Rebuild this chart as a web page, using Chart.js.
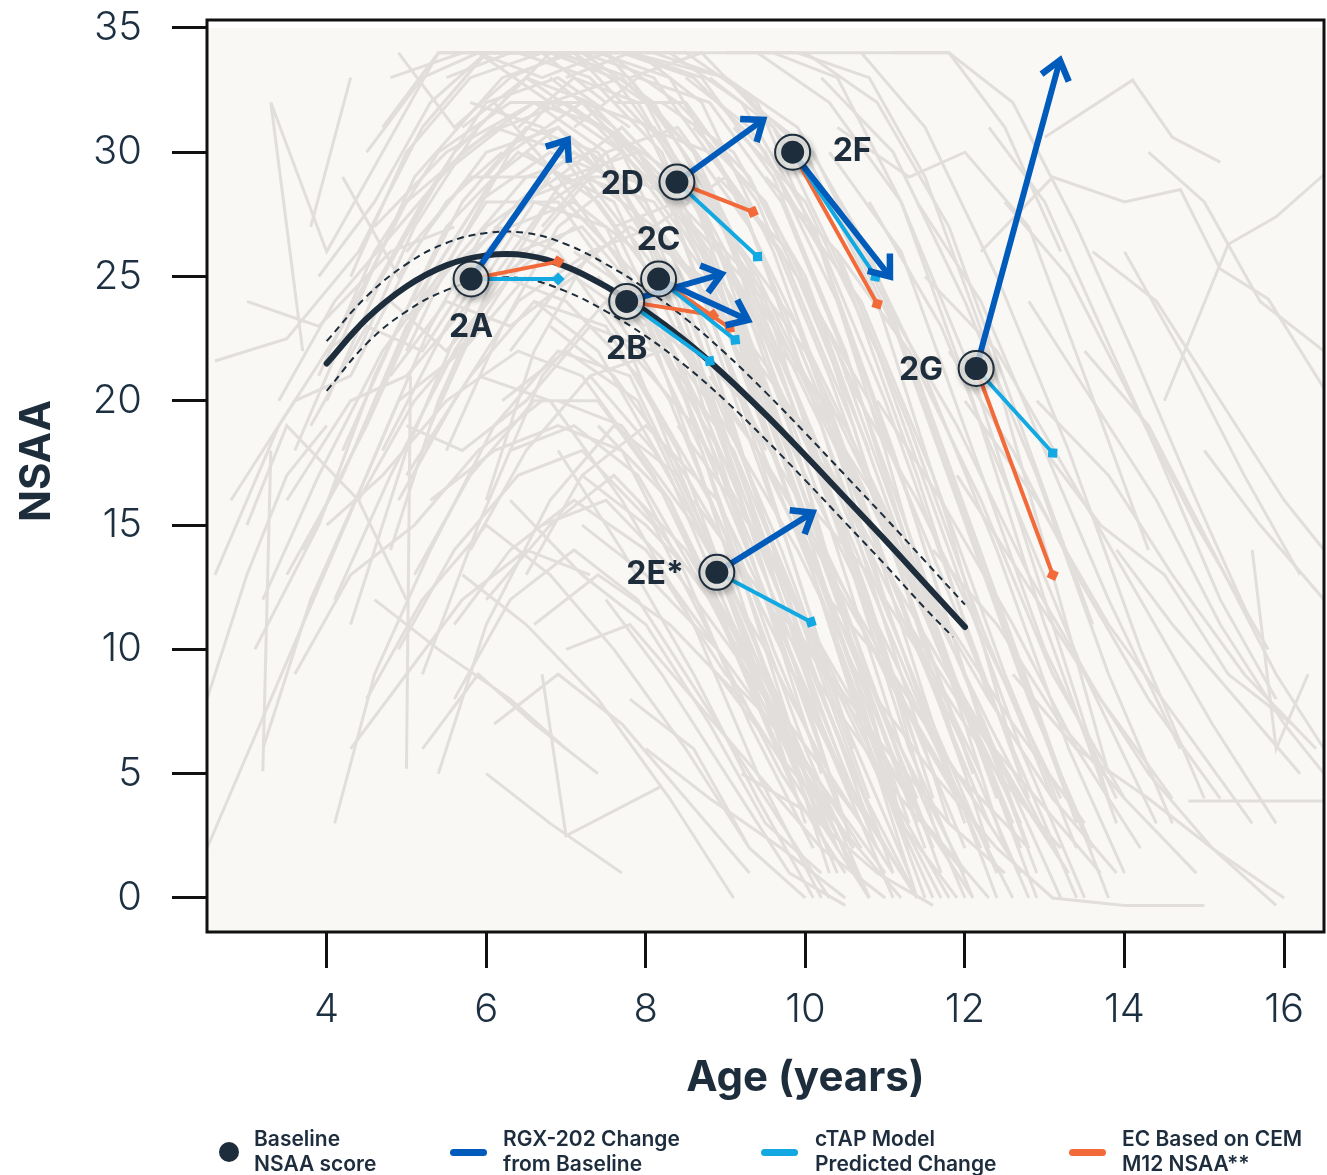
<!DOCTYPE html>
<html><head><meta charset="utf-8">
<script src="https://cdn.jsdelivr.net/npm/chart.js@4.4.1/dist/chart.umd.min.js"></script>
<style>
html,body{margin:0;padding:0;background:#fff;width:1327px;height:1175px;overflow:hidden;}
#wrap{position:relative;width:1327px;height:1175px;}
canvas{position:absolute;left:0;top:0;}
.leg{position:absolute;top:1126px;font-family:Inter,'Noto Sans',sans-serif;font-weight:600;font-size:21px;line-height:25px;color:#1d2d3d;white-space:nowrap;}
.dot{position:absolute;left:219px;top:1142px;width:20px;height:20px;border-radius:50%;background:#1e2d3c;}
.bar{position:absolute;top:1149px;width:37px;height:7px;border-radius:4px;}
</style></head><body>
<div id="wrap">
<canvas id="c" width="1327" height="1175"></canvas>
<div class="dot"></div><div class="leg" style="left:254px">Baseline<br>NSAA score</div>
<div class="bar" style="left:450px;background:#005bbb"></div><div class="leg" style="left:503px">RGX-202 Change<br>from Baseline</div>
<div class="bar" style="left:761px;background:#12a8e2"></div><div class="leg" style="left:815px">cTAP Model<br>Predicted Change</div>
<div class="bar" style="left:1069px;background:#f26a3a"></div><div class="leg" style="left:1122px">EC Based on CEM<br>M12 NSAA**</div>
</div>
<script>
// ---------- DATA ----------
const ageTicks = [4, 6, 8, 10, 12, 14, 16];
const scoreTicks = [0, 5, 10, 15, 20, 25, 30, 35];

const patientIds = ['2A', '2B', '2C', '2D', '2E*', '2F', '2G'];
const baselineAge   = [5.81, 7.76, 8.16, 8.39, 8.89, 9.84, 12.14];
const baselineScore = [24.9, 24.0, 24.9, 28.8, 13.1, 30.0, 21.3];
const rgxAge   = [7.02, 8.95, 9.28, 9.47, 10.09, 11.06, 13.19];
const rgxScore = [30.5, 25.1, 23.25, 31.3, 15.5, 25.0, 33.7];
const ctapAge   = [6.90, 8.80, 9.12, 9.40, 10.07, 10.88, 13.10];
const ctapScore = [24.9, 21.6, 22.45, 25.8, 11.1, 25.0, 17.9];
const ecAge   = [6.90, 8.84, 9.05, 9.34, null, 10.90, 13.10];
const ecScore = [25.6, 23.45, 22.93, 27.6, null, 23.9, 13.0];
const labelSide = ['below', 'below', 'above', 'left', 'left', 'right', 'left'];

const meanAge   = [4, 4.5, 5, 5.5, 6, 6.5, 7, 7.5, 8, 8.5, 9, 9.5, 10, 10.5, 11, 11.5, 12];
const meanScore = [21.5, 23.3, 24.6, 25.45, 25.85, 25.85, 25.4, 24.6, 23.6, 22.4, 21.0, 19.45, 17.8, 16.1, 14.4, 12.65, 10.9];
const upperAge   = [4, 4.5, 5, 5.5, 6, 6.5, 7, 7.5, 8, 8.5, 9, 9.5, 10, 10.5, 11, 11.5, 12];
const upperScore = [22.4, 24.2, 25.5, 26.35, 26.75, 26.75, 26.3, 25.5, 24.5, 23.3, 21.9, 20.35, 18.7, 17.0, 15.3, 13.55, 11.8];
const lowerAge   = [4, 4.5, 5, 5.5, 6, 6.5, 7, 7.5, 8, 8.5, 9, 9.5, 10, 10.5, 11, 11.5, 11.85];
const lowerScore = [20.4, 22.3, 23.6, 24.45, 24.9, 24.9, 24.4, 23.6, 22.6, 21.4, 20.0, 18.45, 16.8, 15.1, 13.4, 11.65, 10.5];

// natural-history cohort trajectories: [age, NSAA] pairs
const cohortTrajectories = [
 [[2.6,21.6],[3.5,22.5],[4.4,26],[5.2,31],[6.0,34],[7.5,34],[8.6,30],[9.8,21],[10.8,12],[11.6,4]],
 [[3.3,32],[3.7,22]],
 [[3.8,27],[4.3,33]],
 [[2.6,13],[3.4,19],[4.2,23],[5.0,28],[6.1,31],[7.0,30],[8.2,25],[9.1,17],[10.0,8],[10.6,2]],
 [[3.1,10],[3.9,15],[4.6,21],[5.5,27],[6.4,30],[7.6,28],[8.5,22],[9.4,13],[10.2,5]],
 [[3.6,18],[4.4,24],[5.1,29],[6.2,33],[7.1,34],[8.0,32],[9.0,26],[9.9,18],[10.7,9],[11.3,2]],
 [[4.0,20],[4.7,25],[5.6,30],[6.5,33],[7.4,31],[8.3,28],[9.2,20],[10.1,13],[11.0,5]],
 [[3.2,6],[3.8,12],[4.5,17],[5.3,23],[6.0,27],[6.9,29],[7.8,25],[8.7,17],[9.5,9],[10.3,1]],
 [[4.3,11],[5.0,18],[5.8,24],[6.6,28],[7.5,27],[8.4,21],[9.3,12],[10.1,4]],
 [[4.8,14],[5.4,20],[6.1,25],[7.0,29],[7.9,30],[8.8,26],[9.7,17],[10.6,8],[11.4,0]],
 [[5.2,9],[5.9,15],[6.7,21],[7.5,24],[8.3,20],[9.2,13],[10.0,6],[10.8,0]],
 [[3.9,25],[4.6,28],[5.3,32],[6.0,34],[6.9,34],[7.8,33],[8.7,29],[9.6,22],[10.5,14],[11.4,6]],
 [[4.5,30],[5.2,33],[5.9,34],[6.8,32],[7.7,30],[8.6,24],[9.5,15],[10.4,8]],
 [[5.0,22],[5.6,26],[6.3,30],[7.2,32],[8.1,31],[9.0,27],[9.9,20],[10.8,12],[11.6,3]],
 [[5.5,18],[6.2,23],[6.9,27],[7.7,29],[8.6,28],[9.5,22],[10.3,15],[11.2,6],[12.0,0]],
 [[6.0,16],[6.6,22],[7.3,26],[8.1,27],[9.0,23],[9.8,16],[10.7,9],[11.5,2]],
 [[2.5,2],[3.3,8],[4.1,14],[4.9,20],[5.7,22],[6.5,25]],
 [[3.0,15],[3.5,19],[4.4,16],[5.1,20],[5.9,23]],
 [[4.1,3],[4.6,9],[5.3,14],[6.1,19],[6.9,22],[7.8,21],[8.7,15],[9.5,8],[10.4,1]],
 [[5.4,5],[6.0,11],[6.8,16],[7.6,19],[8.4,17],[9.3,11],[10.1,4]],
 [[5.4,34],[6.4,34],[7.3,33],[8.2,30],[9.1,23],[10.0,14],[10.9,5],[11.6,0]],
 [[6.3,34],[7.2,34],[8.1,32],[9.0,27],[9.8,19],[10.6,10],[11.3,2]],
 [[6.8,33],[7.6,31],[8.5,27],[9.4,20],[10.3,11],[11.2,3],[11.9,0]],
 [[7.2,34],[8.1,33],[9.0,29],[9.9,23],[10.8,15],[11.7,6],[12.4,0]],
 [[7.7,34],[8.6,33],[9.5,30],[10.4,24],[11.3,16],[12.2,7],[12.9,1]],
 [[8.3,34],[9.2,32],[10.1,27],[11.0,20],[11.9,12],[12.8,4]],
 [[8.8,33],[9.6,31],[10.5,27],[11.4,21],[12.3,13],[13.2,5],[13.8,0]],
 [[9.4,34],[10.3,32],[11.2,28],[12.1,20],[13.0,11],[13.9,3]],
 [[6.5,30],[7.4,28],[8.3,24],[9.2,17],[10.1,9],[11.0,2]],
 [[7.0,28],[7.9,25],[8.8,19],[9.7,12],[10.6,5],[11.4,0]],
 [[5.8,32],[6.7,31],[7.6,27],[8.5,21],[9.4,13],[10.3,6],[11.1,0]],
 [[6.1,27],[6.9,26],[7.8,22],[8.7,15],[9.6,8],[10.4,2]],
 [[7.5,31],[8.4,29],[9.3,24],[10.2,17],[11.1,9],[12.0,2]],
 [[8.0,29],[8.9,26],[9.8,21],[10.7,14],[11.6,7],[12.4,1]],
 [[8.6,31],[9.5,28],[10.4,22],[11.3,14],[12.2,6],[12.9,0]],
 [[9.0,27],[9.9,23],[10.8,17],[11.7,10],[12.6,3]],
 [[9.7,30],[10.6,27],[11.5,21],[12.4,14],[13.3,6],[14.0,1]],
 [[10.2,33],[11.1,30],[12.0,24],[12.9,17],[13.8,9],[14.6,3]],
 [[10.8,28],[11.7,23],[12.6,16],[13.5,9],[14.4,3]],
 [[6.6,24],[7.4,22],[8.3,17],[9.1,11],[10.0,5],[10.8,0]],
 [[7.3,21],[8.1,18],[9.0,13],[9.8,7],[10.6,1]],
 [[5.9,21],[6.8,20],[7.7,16],[8.6,11],[9.4,5],[10.2,0]],
 [[8.1,23],[9.0,19],[9.9,14],[10.8,8],[11.6,2]],
 [[8.7,25],[9.6,21],[10.5,15],[11.4,8],[12.2,2]],
 [[9.3,22],[10.2,18],[11.1,12],[12.0,6],[12.8,0]],
 [[9.9,25],[10.8,20],[11.7,13],[12.6,6],[13.4,0]],
 [[10.5,21],[11.4,16],[12.3,10],[13.2,4]],
 [[6.9,18],[7.7,14],[8.6,9],[9.4,4],[10.1,0]],
 [[7.9,16],[8.8,12],[9.7,7],[10.6,2]],
 [[8.4,19],[9.3,15],[10.2,10],[11.1,4],[11.8,0]],
 [[4.8,33],[5.7,34],[7.0,34],[8.5,34],[9.4,32],[10.2,26],[11.0,18],[11.8,9],[12.5,2]],
 [[5.2,31],[6.0,34],[7.8,34],[9.0,33],[10.0,30],[10.9,24],[11.8,15],[12.6,6]],
 [[6.6,34],[8.0,34],[9.9,34],[10.8,33],[11.5,29],[12.3,22],[13.1,13],[13.8,5]],
 [[9.0,34],[10.5,34],[11.8,34],[12.5,31],[13.2,26]],
 [[11.1,34],[11.8,34],[12.6,32],[13.4,27],[14.1,22],[14.9,16],[15.6,11]],
 [[13.0,30.6],[14.1,32.9],[14.6,30.6],[15.2,29.6]],
 [[12.2,26],[13.1,29],[14.0,28],[14.7,28.5],[15.2,25.3],[15.8,24.1],[16.5,20.5]],
 [[14.5,20],[15.3,26.3],[15.9,27.4],[16.5,29.1]],
 [[12.8,24],[13.6,20],[14.4,16],[15.2,11],[16.0,7],[16.5,5]],
 [[13.5,22],[14.3,19],[15.1,14],[15.9,9],[16.5,6]],
 [[11.5,25],[12.4,22],[13.3,17],[14.2,12],[15.1,7],[15.9,3]],
 [[12.0,20],[12.9,16],[13.8,11],[14.7,7],[15.6,3]],
 [[13.9,14],[14.6,11],[15.4,8],[16.2,5]],
 [[14.8,3.9],[16.5,3.9]],
 [[12.6,9],[13.4,6],[14.3,4],[15.1,2],[16.0,0]],
 [[11.3,11],[12.1,7],[12.9,4],[13.7,1]],
 [[13.0,18],[13.7,15],[14.5,13],[15.3,9],[16.1,7]],
 [[15.6,14],[15.9,6],[16.3,9]],
 [[10.9,8],[11.6,5],[12.4,2],[13.1,0],[14.0,-0.3],[15.0,-0.3]],
 [[12.3,31],[13.0,28],[13.7,23],[14.4,18],[15.2,12],[15.9,8]],
 [[14.0,26],[14.7,22],[15.5,17],[16.2,13]],
 [[10.4,31],[11.3,29],[12.0,30],[12.8,27],[13.5,21],[14.3,14]],
 [[11.9,17],[12.7,13],[13.5,9],[14.3,5],[15.1,2],[15.9,-0.3]],
 [[3.3,18],[3.2,5.1]],
 [[5.05,21],[5.0,5.2]],
 [[2.5,8],[3.0,13],[3.5,17],[4.0,19]],
 [[6.7,9],[7.0,2.5],[8.2,4.5]],
 [[6.3,16],[7.2,13],[8.0,11],[8.8,7],[9.5,3],[10.2,1]],
 [[4.6,12],[5.4,10],[6.3,8],[7.0,6]],
 [[5.7,13],[6.5,11],[7.4,8],[8.3,4],[9.1,0]],
 [[7.5,12],[8.2,9],[9.0,5],[9.8,1],[10.5,-0.3]],
 [[8.9,9],[9.6,6],[10.4,3],[11.2,0]],
 [[9.6,12],[10.3,9],[11.0,6],[11.8,3],[12.5,1]],
 [[10.0,16],[10.8,13],[11.6,9],[12.4,5],[13.2,2]],
 [[2.8,16],[3.6,20],[4.3,21],[5.1,26]],
 [[4.2,29],[4.9,25],[5.5,28],[6.2,30]],
 [[3.0,24],[3.9,23],[4.8,26],[5.6,27]],
 [[4.4,16],[5.0,12]],
 [[7.8,8],[8.6,6],[9.3,2],[10.0,0]],
 [[9.2,5],[10.0,3.5],[10.9,1],[11.6,-0.3]],
 [[5.6,25],[6.4,28],[7.1,30],[8.0,28],[8.9,22],[9.8,14],[10.6,6]],
 [[6.4,31],[7.1,33],[7.9,32],[8.8,27],[9.7,19],[10.5,11],[11.4,3]],
 [[4.6,27],[5.5,30],[6.6,32],[7.5,30],[8.4,24],[9.3,16],[10.2,7]],
 [[7.1,26],[8.0,24],[8.9,20],[9.7,14],[10.5,7],[11.3,1]],
 [[7.9,34],[8.7,32],[9.6,26],[10.5,18],[11.4,10],[12.3,3]],
 [[5.0,17],[5.8,21],[6.6,24],[7.5,23],[8.4,18],[9.2,11],[10.0,3]],
 [[6.0,12],[6.8,15],[7.6,17],[8.5,14],[9.4,9],[10.2,3]],
 [[3.5,13],[4.2,17],[5.0,23],[5.7,26],[6.5,29],[7.3,30],[8.1,26]],
 [[6.2,20],[7.0,22],[7.9,20],[8.8,14],[9.6,8],[10.4,2]],
 [[8.5,29],[9.4,25],[10.3,19],[11.2,12],[12.0,5]],
 [[9.1,31],[10.0,28],[10.9,22],[11.8,14],[12.7,6],[13.5,0]],
 [[9.6,34],[10.4,33],[11.2,28],[12.1,21],[13.0,12],[13.8,4]],
 [[7.4,19],[8.3,16],[9.2,10],[10.0,5],[10.8,0]],
 [[5.3,27],[6.0,30],[6.9,31],[7.7,29],[8.6,25],[9.5,18]],
 [[4.0,22],[4.8,24],[5.5,22],[6.3,25],[7.1,27]],
 [[10.1,20],[10.9,16],[11.8,11],[12.6,7],[13.5,3]],
 [[11.0,24],[11.9,19],[12.8,13],[13.7,8],[14.6,4]],
 [[3.3,32],[4.0,26],[4.7,30],[5.4,34]],
 [[4.9,34],[5.6,31],[6.3,33],[7.0,34]],
 [[8.2,13],[9.0,9],[9.9,6],[10.7,2]],
 [[4.2,18],[4.9,23],[5.7,28],[6.5,31],[7.4,30],[8.2,26],[9.1,19],[9.9,11],[10.8,3]],
 [[4.6,20],[5.3,25],[6.1,29],[6.9,31],[7.8,28],[8.7,21],[9.6,12],[10.4,4]],
 [[5.1,24],[5.9,28],[6.8,30],[7.6,29],[8.5,24],[9.4,16],[10.3,8],[11.1,1]],
 [[3.7,14],[4.5,19],[5.2,24],[6.0,28],[6.9,28],[7.8,24],[8.7,18],[9.6,10],[10.5,3]],
 [[4.4,22],[5.1,27],[5.9,31],[6.8,34],[7.6,33],[8.5,29],[9.4,21],[10.3,12],[11.1,4]],
 [[5.3,19],[6.0,24],[6.8,28],[7.7,30],[8.6,27],[9.5,20],[10.4,11],[11.3,3]],
 [[5.7,22],[6.5,26],[7.3,29],[8.2,29],[9.1,24],[10.0,16],[10.9,8],[11.7,1]],
 [[6.3,22],[7.0,25],[7.8,27],[8.7,25],[9.6,19],[10.5,11],[11.4,4]],
 [[4.9,16],[5.6,20],[6.4,24],[7.3,26],[8.2,23],[9.1,16],[10.0,9],[10.9,2]],
 [[5.8,14],[6.5,18],[7.3,21],[8.2,22],[9.1,18],[10.0,11],[10.8,4]],
 [[6.5,13],[7.2,17],[8.0,19],[8.9,16],[9.8,10],[10.6,4]],
 [[4.0,15],[4.7,17],[5.5,20],[6.4,22],[7.2,21],[8.1,17],[9.0,11],[9.8,5]],
 [[3.4,20],[4.1,24],[4.9,27],[5.7,30],[6.6,32],[7.5,31],[8.4,27],[9.3,19],[10.2,10]],
 [[4.7,31],[5.4,34],[6.2,34],[7.1,34],[8.0,31],[8.9,25],[9.8,16],[10.7,7],[11.5,0]],
 [[5.5,33],[6.3,34],[7.4,34],[8.3,33],[9.2,28],[10.1,20],[11.0,11],[11.8,3]],
 [[6.0,29],[6.8,32],[7.7,33],[8.6,30],[9.5,24],[10.4,15],[11.3,6],[12.1,0]],
 [[6.7,27],[7.5,30],[8.4,31],[9.3,27],[10.2,20],[11.1,11],[12.0,3]],
 [[7.1,31],[7.9,33],[8.8,32],[9.7,28],[10.6,21],[11.5,12],[12.4,4]],
 [[7.6,27],[8.4,28],[9.3,25],[10.2,19],[11.1,11],[11.9,4]],
 [[8.0,31],[8.8,30],[9.7,26],[10.6,19],[11.5,10],[12.3,2]],
 [[8.5,33],[9.3,31],[10.2,26],[11.1,18],[12.0,9],[12.8,2]],
 [[8.9,29],[9.8,26],[10.7,20],[11.6,12],[12.5,5],[13.2,0]],
 [[9.3,32],[10.1,30],[11.0,24],[11.9,16],[12.8,8],[13.6,2]],
 [[9.8,28],[10.7,24],[11.6,17],[12.5,9],[13.4,2]],
 [[10.3,30],[11.2,26],[12.1,18],[13.0,10],[13.9,4]],
 [[6.2,25],[7.0,24],[7.9,21],[8.8,16],[9.7,10],[10.6,4],[11.4,0]],
 [[6.8,23],[7.6,21],[8.5,17],[9.4,12],[10.3,6],[11.2,1]],
 [[7.4,25],[8.2,22],[9.1,17],[10.0,11],[10.9,5],[11.7,0]],
 [[7.8,22],[8.6,19],[9.5,14],[10.4,9],[11.3,4],[12.1,0]],
 [[8.3,26],[9.1,23],[10.0,17],[10.9,11],[11.8,5],[12.6,0]],
 [[8.8,21],[9.6,17],[10.5,12],[11.4,7],[12.3,2]],
 [[9.4,24],[10.2,20],[11.1,14],[12.0,8],[12.9,3]],
 [[9.9,19],[10.7,15],[11.6,10],[12.5,5],[13.3,1]],
 [[5.6,11],[6.3,14],[7.1,16],[8.0,14],[8.9,10],[9.7,5],[10.5,1]],
 [[6.6,11],[7.4,13],[8.3,11],[9.2,8],[10.0,4],[10.8,0]],
 [[7.2,15],[8.0,13],[8.9,10],[9.8,6],[10.6,2]],
 [[8.6,16],[9.5,12],[10.3,8],[11.2,4],[12.0,1]],
 [[9.4,18],[10.2,14],[11.1,9],[11.9,5],[12.7,1]],
 [[10.6,17],[11.4,13],[12.3,8],[13.1,4],[13.9,1]],
 [[5.9,34],[6.7,33],[7.5,34],[8.4,32],[9.3,29],[10.2,23],[11.1,14],[12.0,6]],
 [[6.9,34],[7.8,33],[8.7,34],[9.6,31],[10.5,25],[11.4,17],[12.3,8]],
 [[8.1,34],[9.0,33],[9.9,31],[10.8,26],[11.7,18],[12.6,10],[13.4,3]],
 [[10.0,34],[10.9,32],[11.8,27],[12.7,19],[13.6,11]],
 [[10.7,34],[11.5,31],[12.4,25],[13.3,18],[14.2,10],[15.0,4]],
 [[4.3,25],[5.0,30],[5.8,33],[6.7,34],[7.5,32]],
 [[3.8,19],[4.5,23],[5.2,22],[6.0,26],[6.8,29]],
 [[5.0,19],[5.7,18],[6.5,20],[7.3,23],[8.1,22]],
 [[6.1,32],[6.9,29],[7.7,31],[8.6,28],[9.4,23]],
 [[7.3,29],[8.1,27],[9.0,29],[9.9,25],[10.8,18]],
 [[5.3,16],[6.1,18],[6.9,19],[7.7,18],[8.5,13],[9.3,7],[10.1,2]],
 [[4.5,8],[5.2,12],[6.0,15],[6.8,13],[7.6,10],[8.5,6],[9.3,2]],
 [[3.6,9],[4.3,13],[5.1,15],[5.9,18],[6.7,20]],
 [[7.0,10],[7.8,11],[8.6,8],[9.4,5],[10.2,2],[11.0,0]],
 [[8.0,6],[8.8,4],[9.7,2],[10.5,0]],
 [[9.0,14],[9.8,11],[10.7,7],[11.5,3],[12.3,0]],
 [[10.3,12],[11.1,9],[11.9,5],[12.8,2]],
 [[10.9,20],[11.7,16],[12.6,11],[13.4,6],[14.2,2]],
 [[11.4,28],[12.2,24],[13.0,18],[13.8,12],[14.7,6]],
 [[11.8,22],[12.6,18],[13.4,13],[14.3,8],[15.2,4]],
 [[12.5,28],[13.3,25],[14.1,20],[14.9,15],[15.8,10]],
 [[12.9,20],[13.8,17],[14.6,13],[15.5,9],[16.4,6]],
 [[13.6,26],[14.4,24],[15.2,20],[16.0,16],[16.5,14]],
 [[14.3,30],[15.0,28],[15.7,24],[16.5,22]],
 [[15.0,18],[15.7,15],[16.5,12]],
 [[5.2,6],[5.9,9],[6.6,7],[7.4,5]],
 [[6.0,5],[6.8,3],[7.7,1]],
 [[11.6,14],[12.4,11],[13.2,7],[14.0,4],[14.9,1]],
 [[4.1,12],[4.8,17],[5.6,22],[6.4,26],[7.2,27],[8.0,24],[8.9,17]],
 [[4.5,24],[5.2,28],[6.0,32],[6.9,33],[7.8,31]],
 [[3.9,21],[4.6,26],[5.4,30],[6.3,32],[7.2,32],[8.1,29]],
 [[4.7,18],[5.5,23],[6.3,27],[7.1,28],[7.9,26],[8.8,20],[9.7,12],[10.5,5]],
 [[5.1,13],[5.8,17],[6.6,20],[7.4,20],[8.3,16],[9.1,10],[9.9,4]],
 [[5.6,8],[6.3,12],[7.1,14],[7.9,12],[8.7,8],[9.5,4],[10.3,0]],
 [[4.3,6],[5.0,9],[5.7,12],[6.5,14],[7.3,13]],
 [[6.1,7],[6.9,9],[7.7,7],[8.5,4],[9.3,1]],
 [[5.4,29],[6.2,31],[7.0,32],[7.9,30],[8.8,25],[9.7,17],[10.6,9]],
 [[6.4,28],[7.2,29],[8.1,28],[9.0,24],[9.9,17],[10.8,9],[11.6,2]],
 [[7.0,33],[7.8,34],[8.7,33],[9.6,29],[10.5,22],[11.4,13],[12.3,5]],
 [[7.6,32],[8.5,32],[9.4,28],[10.3,21],[11.2,13],[12.1,5]],
 [[8.2,32],[9.1,30],[10.0,25],[10.9,17],[11.8,9],[12.7,2]],
 [[5.0,26],[5.8,29],[6.7,29],[7.6,26],[8.5,20],[9.4,13],[10.3,5]],
 [[3.5,16],[4.3,20],[5.0,21],[5.8,24],[6.6,26]],
 [[4.8,21],[5.5,24],[6.3,23],[7.1,25],[8.0,23]],
 [[6.9,20],[7.7,19],[8.6,15],[9.5,10],[10.3,5],[11.1,1]],
 [[7.7,24],[8.5,22],[9.4,18],[10.3,12],[11.2,6],[12.0,1]],
 [[8.4,23],[9.2,20],[10.1,15],[11.0,9],[11.9,4]],
 [[9.1,26],[10.0,22],[10.9,16],[11.8,9],[12.7,3]],
 [[9.5,29],[10.4,26],[11.3,19],[12.2,11],[13.1,4]],
 [[6.3,18],[7.1,19],[7.9,17],[8.8,12],[9.6,7],[10.4,2]],
 [[4.9,10],[5.6,14],[6.4,17],[7.2,18],[8.1,15],[8.9,10]],
 [[3.2,12],[3.9,17],[4.7,22],[5.4,25],[6.2,27]],
 [[5.7,31],[6.5,33],[7.3,32],[8.2,29],[9.0,24],[9.9,16]],
 [[8.6,27],[9.5,24],[10.4,18],[11.3,11],[12.2,5]],
 [[7.2,17],[8.0,15],[8.9,12],[9.8,7],[10.7,3]],
 [[6.7,15],[7.5,16],[8.4,13],[9.3,9],[10.1,5],[11.0,1]],
 [[9.7,22],[10.5,19],[11.4,13],[12.3,7],[13.1,2]],
 [[10.4,26],[11.3,22],[12.2,16],[13.1,9],[14.0,4]]
];

// ---------- STYLE ----------
const C = { dark:'#1e2d3c', rgx:'#005bbb', ctap:'#12a8e2', ec:'#f26a3a', gray:'#e1dedb', bg:'#faf8f4' };
const FONT = "Inter, 'Noto Sans', sans-serif";

const toPts = (xs, ys) => xs.map((x, i) => ({ x, y: ys[i] }));
const datasets = [];

cohortTrajectories.forEach(t => datasets.push({
  type: 'line', data: t.map(p => ({ x: p[0], y: p[1] })), borderColor: C.gray, borderWidth: 3,
  pointRadius: 0, tension: 0, order: 100
}));
datasets.push({ type:'line', data: toPts(upperAge, upperScore), borderColor: C.dark, borderWidth: 2, borderDash:[7,5], pointRadius:0, tension:0.4, order: 51 });
datasets.push({ type:'line', data: toPts(lowerAge, lowerScore), borderColor: C.dark, borderWidth: 2, borderDash:[7,5], pointRadius:0, tension:0.4, order: 51 });
datasets.push({ type:'line', data: toPts(meanAge, meanScore), borderColor: C.dark, borderWidth: 6, pointRadius:0, tension:0.4, borderCapStyle:'round', order: 50 });

function markerRotation(c) {
  const d = c.dataset.data, xs = c.chart.scales.x, ys = c.chart.scales.y;
  const a = Math.atan2(ys.getPixelForValue(d[1].y) - ys.getPixelForValue(d[0].y),
                       xs.getPixelForValue(d[1].x) - xs.getPixelForValue(d[0].x));
  return a * 180 / Math.PI + 45;
}
patientIds.forEach((id, i) => {
  if (ecAge[i] !== null) datasets.push({ type:'line', data:[{x:baselineAge[i],y:baselineScore[i]},{x:ecAge[i],y:ecScore[i]}],
    borderColor:C.ec, backgroundColor:C.ec, borderWidth:4, pointRadius:[0,6.5], pointStyle:'rect', pointRotation: markerRotation, pointBorderWidth:0, order: 22 });
  datasets.push({ type:'line', data:[{x:baselineAge[i],y:baselineScore[i]},{x:ctapAge[i],y:ctapScore[i]}],
    borderColor:C.ctap, backgroundColor:C.ctap, borderWidth:4, pointRadius:[0,6.5], pointStyle:'rect', pointRotation: markerRotation, pointBorderWidth:0, order: 21 });
  datasets.push({ type:'line', arrow:true, data:[{x:baselineAge[i],y:baselineScore[i]},{x:rgxAge[i],y:rgxScore[i]}],
    borderColor:C.rgx, borderWidth:6, pointRadius:0, order: 20 });
});
datasets.push({ type:'scatter', halo:true, data: toPts(baselineAge, baselineScore), pointRadius:17.5, backgroundColor:'rgba(240,239,237,0.78)', borderColor:C.dark, borderWidth:2, order: 10 });
datasets.push({ type:'scatter', data: toPts(baselineAge, baselineScore), pointRadius:11.5, backgroundColor:C.dark, borderWidth:0, order: 5 });

// ---------- PLUGINS ----------
const frame = {
  id: 'frame',
  beforeDatasetsDraw(chart) {
    const { ctx, chartArea: a } = chart;
    ctx.save(); ctx.fillStyle = C.bg; ctx.fillRect(a.left, a.top + 8, a.right - a.left, a.bottom - a.top - 8); ctx.restore();
  },
  afterDraw(chart) {
    const { ctx, chartArea: a } = chart;
    ctx.save(); ctx.strokeStyle = '#111'; ctx.lineWidth = 3;
    ctx.strokeRect(a.left, a.top, a.right - a.left, a.bottom - a.top); ctx.restore();
  }
};
const haloShadow = {
  id: 'haloShadow',
  beforeDatasetDraw(chart, args) {
    if (!chart.data.datasets[args.index].halo) return;
    const ctx = chart.ctx; ctx.save();
    ctx.shadowColor = 'rgba(0,0,0,0.3)'; ctx.shadowBlur = 6; ctx.shadowOffsetX = 2; ctx.shadowOffsetY = 3;
  },
  afterDatasetDraw(chart, args) {
    if (!chart.data.datasets[args.index].halo) return;
    chart.ctx.restore();
  }
};
const arrowHeads = {
  id: 'arrowHeads',
  afterDatasetDraw(chart, args) {
    const ds = chart.data.datasets[args.index];
    if (!ds.arrow) return;
    const [p0, p1] = args.meta.data, ctx = chart.ctx;
    const ang = Math.atan2(p1.y - p0.y, p1.x - p0.x), L = 23, s = 0.66;
    ctx.save(); ctx.strokeStyle = ds.borderColor; ctx.lineWidth = 6.5; ctx.lineJoin = 'miter'; ctx.lineCap = 'butt';
    ctx.beginPath();
    ctx.moveTo(p1.x - L * Math.cos(ang - s), p1.y - L * Math.sin(ang - s));
    ctx.lineTo(p1.x, p1.y);
    ctx.lineTo(p1.x - L * Math.cos(ang + s), p1.y - L * Math.sin(ang + s));
    ctx.stroke(); ctx.restore();
  }
};
const texts = {
  id: 'texts',
  afterDraw(chart) {
    const { ctx, scales: { x, y } } = chart;
    ctx.save();
    ctx.fillStyle = C.dark;
    ctx.font = `700 32px ${FONT}`; ctx.textBaseline = 'middle';
    patientIds.forEach((id, i) => {
      const px = x.getPixelForValue(baselineAge[i]), py = y.getPixelForValue(baselineScore[i]);
      const side = labelSide[i];
      if (side === 'below') { ctx.textAlign = 'center'; ctx.fillText(id, px, py + 48); }
      else if (side === 'above') { ctx.textAlign = 'center'; ctx.fillText(id, px, py - 39); }
      else if (side === 'left') { ctx.textAlign = 'right'; ctx.fillText(id, px - 33, py + 2); }
      else { ctx.textAlign = 'left'; ctx.fillText(id, px + 40, py - 1); }
    });
    ctx.font = `700 42px ${FONT}`; ctx.textBaseline = 'alphabetic'; ctx.textAlign = 'center';
    ctx.fillText('Age (years)', (x.getPixelForValue(4) + x.getPixelForValue(16)) / 2, 1091);
    ctx.translate(50, 461); ctx.rotate(-Math.PI / 2); ctx.fillText('NSAA', 0, 0);
    ctx.restore();
  }
};

// ---------- CHART ----------
new Chart(document.getElementById('c'), {
  data: { datasets },
  options: {
    responsive: false, animation: false, devicePixelRatio: 1,
    layout: { autoPadding: false, padding: { left: 0, right: 3, top: 20, bottom: 0 } },
    plugins: { legend: { display: false }, tooltip: { enabled: false } },
    scales: {
      x: {
        type: 'linear', min: 2.5, max: 16.5,
        afterBuildTicks: s => { s.ticks = ageTicks.map(v => ({ value: v })); },
        afterFit: s => { s.height = 243; s.paddingLeft = 0; s.paddingRight = 0; },
        grid: { drawOnChartArea: false, drawTicks: true, tickLength: 36, tickWidth: 3, tickColor: '#111' },
        border: { display: false },
        ticks: { padding: 18, autoSkip: false, maxRotation: 0, color: '#1d3041', font: { family: FONT, size: 40, weight: 300 } }
      },
      y: {
        type: 'linear', min: -1.37, max: 35.32,
        afterBuildTicks: s => { s.ticks = scoreTicks.map(v => ({ value: v })); },
        afterFit: s => { s.width = 207; s.paddingTop = 0; s.paddingBottom = 0; },
        grid: { drawOnChartArea: false, drawTicks: true, tickLength: 35, tickWidth: 3, tickColor: '#111' },
        border: { display: false },
        ticks: { padding: 30, autoSkip: false, color: '#1d3041', font: { family: FONT, size: 40, weight: 300 } }
      }
    }
  },
  plugins: [frame, haloShadow, arrowHeads, texts]
});
</script>
</body></html>
